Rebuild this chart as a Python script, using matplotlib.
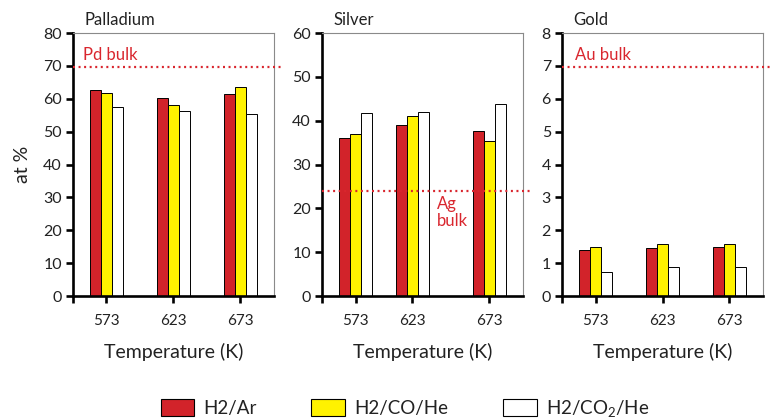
import numpy as np
import matplotlib
matplotlib.use("Agg")
import matplotlib.pyplot as plt
from matplotlib.patches import Patch

plt.rcParams['font.family'] = ['Lato', 'DejaVu Sans']
plt.rcParams['mathtext.fontset'] = 'custom'
plt.rcParams['mathtext.rm'] = 'Lato'

# -----------------------------------------------------------------------------
# Data
# -----------------------------------------------------------------------------
temps = ["573", "623", "673"]
series = ["H2/Ar", "H2/CO/He", "H2/CO$\\mathregular{_2}$/He"]

pd_h2ar = [62.7, 60.1, 61.4]
pd_h2co = [61.7, 58.1, 63.6]
pd_h2co2 = [57.4, 56.3, 55.5]
pd_bulk = 69.6

ag_h2ar = [36.1, 39.1, 37.6]
ag_h2co = [36.9, 41.1, 35.3]
ag_h2co2 = [41.7, 41.9, 43.9]
ag_bulk = 23.9

au_h2ar = [1.40, 1.46, 1.50]
au_h2co = [1.48, 1.57, 1.57]
au_h2co2 = [0.74, 0.87, 0.87]
au_bulk = 6.96

# -----------------------------------------------------------------------------
# Style
# -----------------------------------------------------------------------------
colors = ["#d2232a", "#fff200", "#ffffff"]
red_txt = "#d9262e"
txt = "#222222"
bar_w = 0.165

panels = [
    dict(title="Palladium", vals=[pd_h2ar, pd_h2co, pd_h2co2], bulk=pd_bulk,
         ymax=80, step=10, xpos=[0, 1, 2], label="Pd bulk", lx=-0.35, ly=73.3,
         left=0.0948),
    dict(title="Silver", vals=[ag_h2ar, ag_h2co, ag_h2co2], bulk=ag_bulk,
         ymax=60, step=10, xpos=[0, 0.85, 2], label="Ag\nbulk", lx=1.21, ly=19.0,
         left=0.4182),
    dict(title="Gold", vals=[au_h2ar, au_h2co, au_h2co2], bulk=au_bulk,
         ymax=8, step=1, xpos=[0, 1, 2], label="Au bulk", lx=-0.3, ly=7.33,
         left=0.7299),
]

fig = plt.figure(figsize=(7.7, 4.2), dpi=100)

for i, p in enumerate(panels):
    ax = fig.add_axes([p["left"], 0.2952, 0.261, 0.6262])
    xpos = np.array(p["xpos"], dtype=float)
    for k, v in enumerate(p["vals"]):
        ax.bar(xpos + (k - 1) * bar_w, v, width=bar_w, color=colors[k],
               edgecolor="black", linewidth=0.7, zorder=2)

    # bulk composition reference line, runs a bit past the right frame
    ax.axhline(p["bulk"], xmin=0, xmax=1.05, color=red_txt, lw=1.6,
               linestyle=(0, (0.9, 1.6)), clip_on=False, zorder=3)
    ax.text(p["lx"], p["ly"], p["label"], color=red_txt, fontsize=12,
            ha="left", va="center", linespacing=1.05)

    ax.set_xlim(-0.5, 2.5)
    ax.set_ylim(0, p["ymax"])
    ax.set_yticks(np.arange(0, p["ymax"] + p["step"] / 2, p["step"]))
    ax.set_xticks(xpos)
    ax.set_xticklabels(temps)
    ax.set_xticks([-0.5], minor=True)

    for s in ["left", "bottom"]:
        ax.spines[s].set_linewidth(1.9)
        ax.spines[s].set_color("black")
    for s in ["top", "right"]:
        ax.spines[s].set_linewidth(0.8)
        ax.spines[s].set_color("#8a8a8a")

    ax.tick_params(axis="y", direction="out", length=5, width=1.9,
                   labelsize=11.5, pad=3, colors="black", labelcolor=txt)
    ax.tick_params(axis="x", which="both", direction="out", length=5, width=1.9,
                   labelsize=11, pad=8, colors="black", labelcolor=txt)

    ax.set_xlabel("Temperature (K)", fontsize=14, color=txt, labelpad=11)
    ax.text(0.055, 1.02, p["title"], transform=ax.transAxes, fontsize=12,
            color=txt, ha="left", va="bottom")
    if i == 0:
        ax.set_ylabel("at %", fontsize=14, color=txt, labelpad=9)

handles = [Patch(facecolor=c, edgecolor="black", linewidth=0.8) for c in colors]
fig.legend(handles, series, loc="lower center", bbox_to_anchor=(0.526, -0.038),
           ncol=3, frameon=False, fontsize=13.5, handlelength=1.8,
           handleheight=1.0, handletextpad=0.5, columnspacing=2.9,
           labelcolor=txt)

fig.savefig("out.png", dpi=100)
